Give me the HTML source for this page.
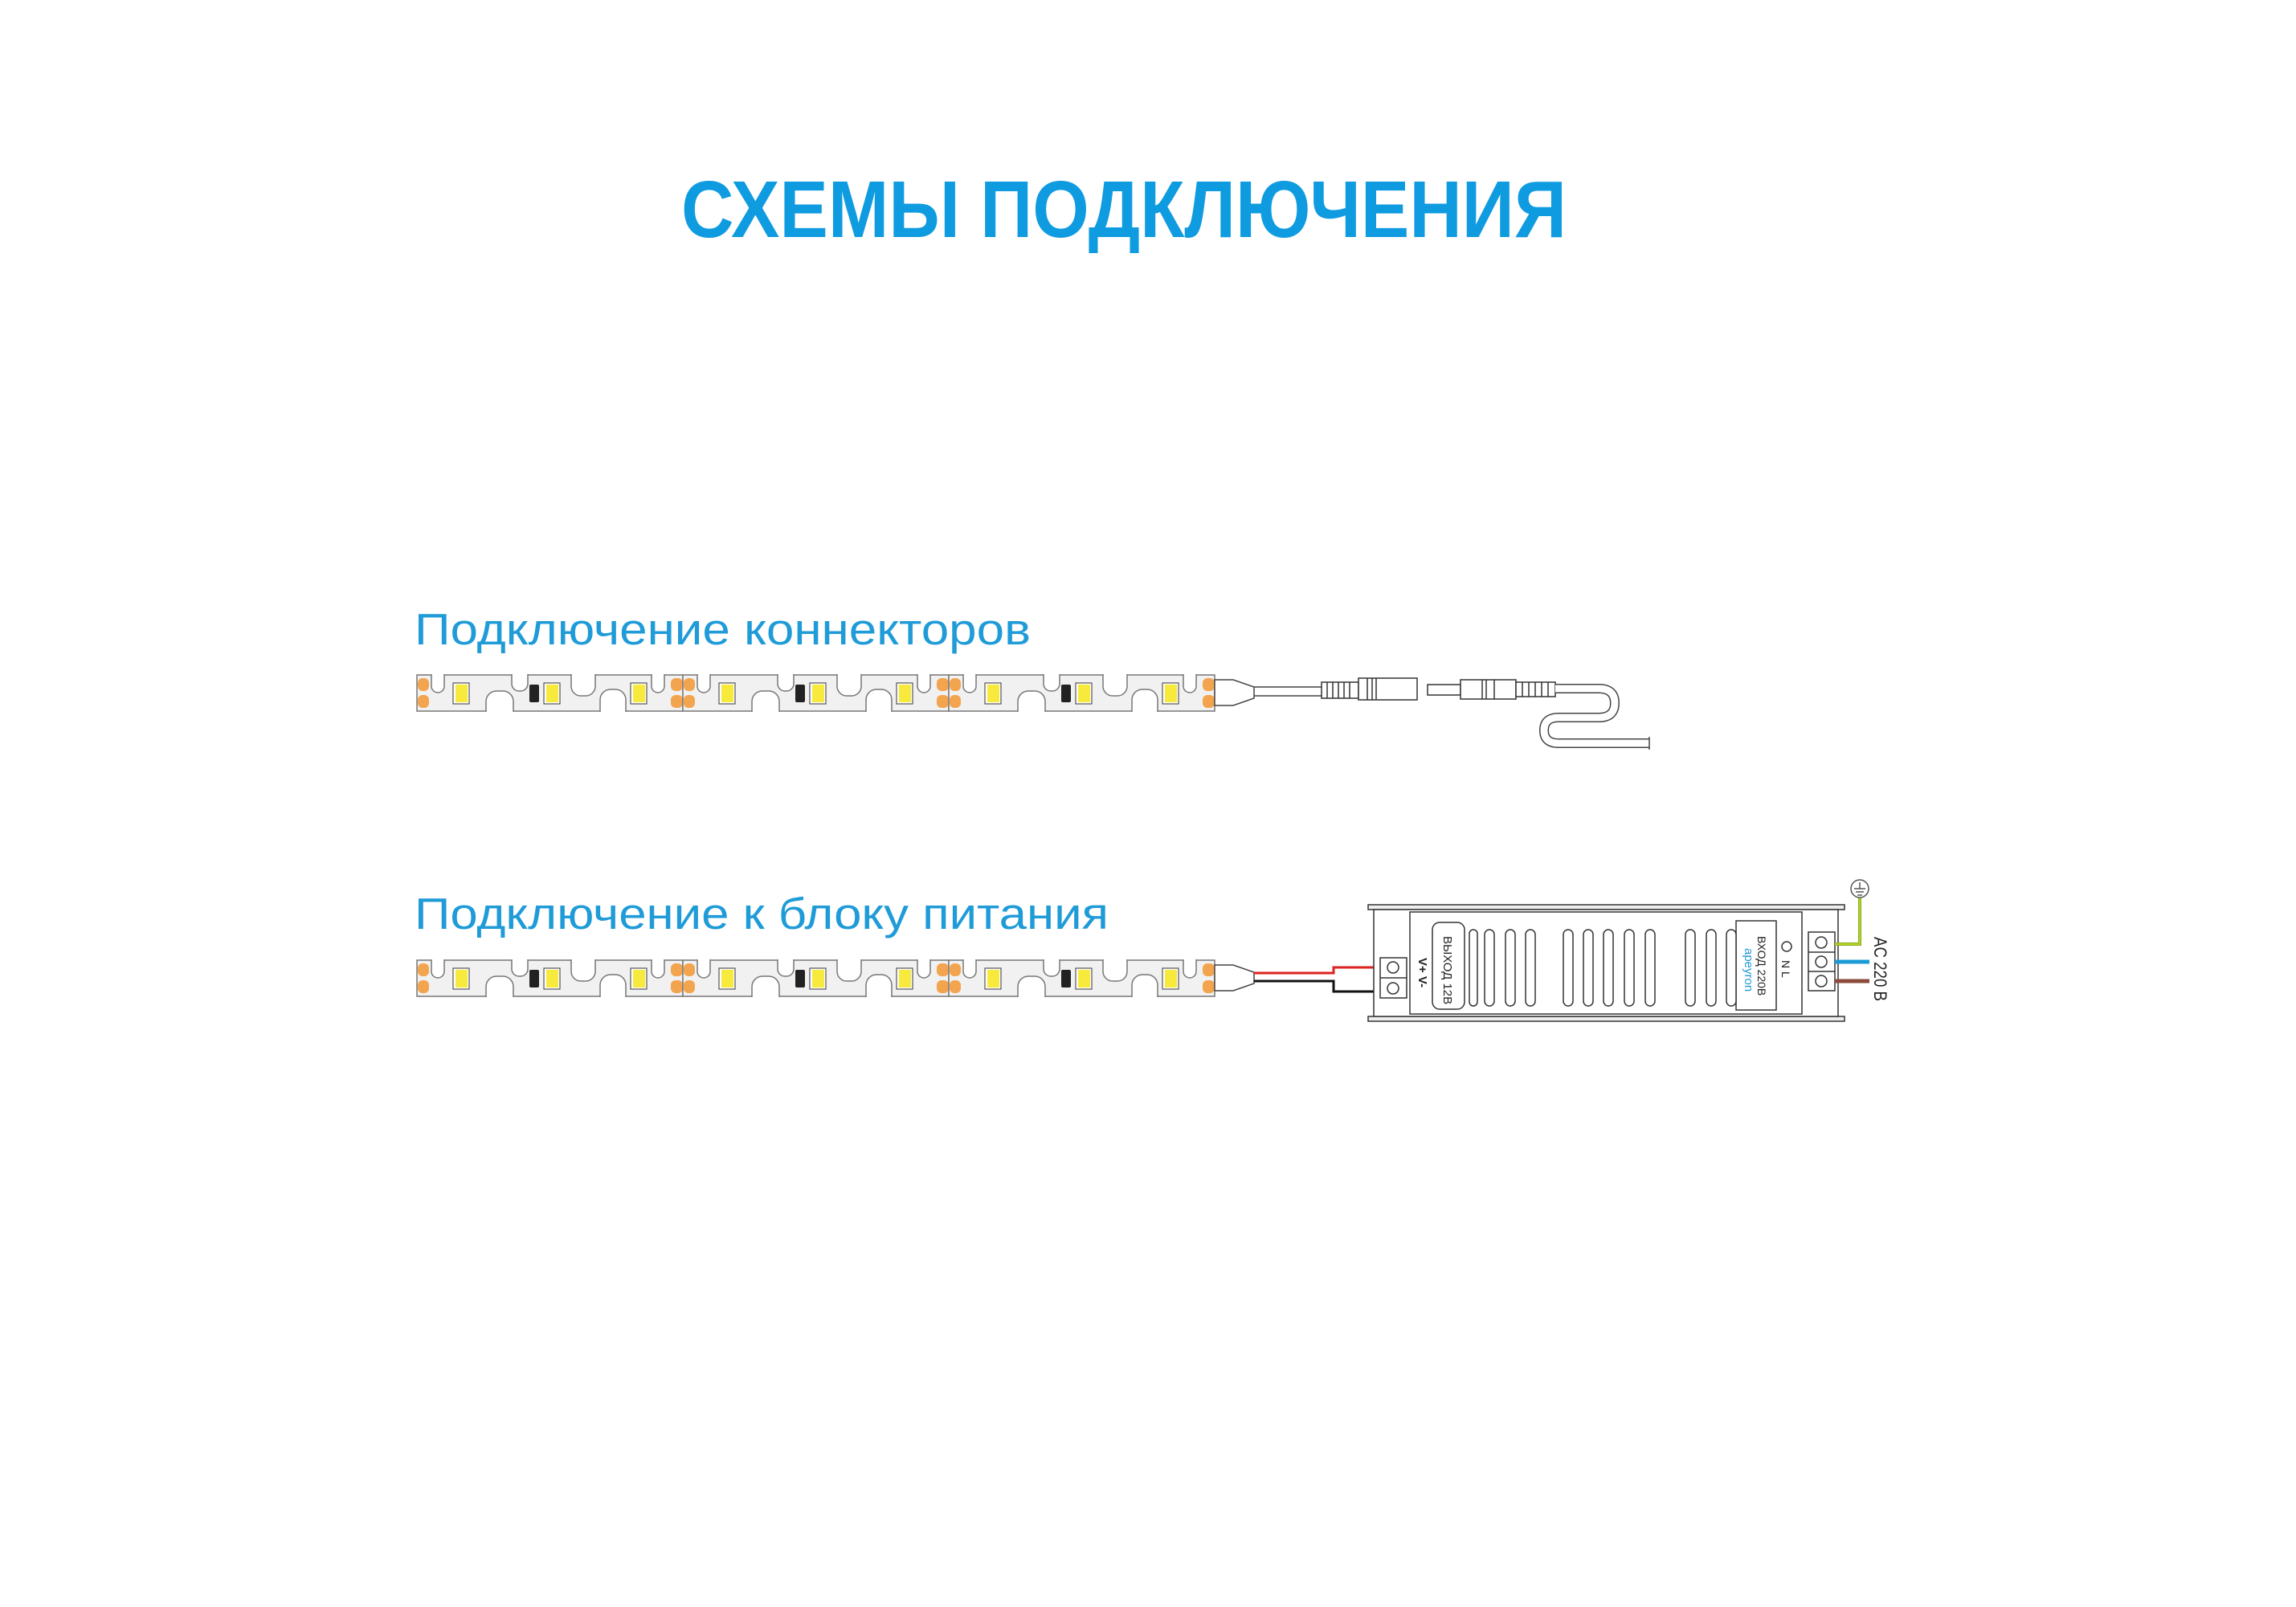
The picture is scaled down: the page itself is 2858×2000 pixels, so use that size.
<!DOCTYPE html>
<html><head><meta charset="utf-8"><style>
html,body{margin:0;padding:0;background:#fff;width:2858px;height:2000px;overflow:hidden}
svg{display:block}
</style></head><body>
<svg width="2858" height="2000" viewBox="0 0 2858 2000" xmlns="http://www.w3.org/2000/svg">
<defs>
<clipPath id="sc"><rect x="0" y="-1" width="331" height="47"/></clipPath>
<g id="seg">
  <rect x="0" y="0" width="331" height="45" fill="#f1f1f1" stroke="#777" stroke-width="1.5"/>
  <g clip-path="url(#sc)" fill="#fff" stroke="#777" stroke-width="1.5">
    <rect x="18" y="-20" width="16" height="42" rx="8"/>
    <rect x="86" y="20" width="34" height="46" rx="13"/>
    <rect x="118" y="-20" width="20" height="40" rx="9"/>
    <rect x="192" y="-22" width="30" height="48" rx="12"/>
    <rect x="228" y="18" width="32" height="46" rx="13"/>
    <rect x="292" y="-20" width="16" height="42" rx="8"/>
  </g>
  <rect x="1" y="4" width="14" height="16" rx="6" fill="#f2a44f"/>
  <rect x="1" y="25" width="14" height="16" rx="6" fill="#f2a44f"/>
  <rect x="316" y="4" width="15" height="16" rx="6" fill="#f2a44f"/>
  <rect x="316" y="25" width="15" height="16" rx="6" fill="#f2a44f"/>
  <rect x="45" y="10" width="20" height="26" fill="#fff" stroke="#555" stroke-width="1.2"/>
  <rect x="48" y="12" width="15" height="22" fill="#f7ea3c"/>
  <rect x="140" y="12" width="12" height="22" rx="2" fill="#222"/>
  <rect x="158" y="10" width="20" height="26" fill="#fff" stroke="#555" stroke-width="1.2"/>
  <rect x="161" y="12" width="15" height="22" fill="#f7ea3c"/>
  <rect x="266" y="10" width="20" height="26" fill="#fff" stroke="#555" stroke-width="1.2"/>
  <rect x="269" y="12" width="15" height="22" fill="#f7ea3c"/>
</g>
<g id="strip">
  <use href="#seg" x="0" y="0"/>
  <use href="#seg" x="331" y="0"/>
  <use href="#seg" x="662" y="0"/>
  <path d="M993 6 L1016 6 L1042 15 L1042 29 L1016 38 L993 38 Z" fill="#fff" stroke="#444" stroke-width="1.5"/>
</g>
</defs>

<text x="848" y="295" font-family="Liberation Sans, sans-serif" font-weight="bold" font-size="100" fill="#0f9be0" textLength="1102" lengthAdjust="spacingAndGlyphs">СХЕМЫ ПОДКЛЮЧЕНИЯ</text>

<text x="516" y="802" font-family="Liberation Sans, sans-serif" font-size="55" fill="#1f9bd8" textLength="767" lengthAdjust="spacingAndGlyphs">Подключение коннекторов</text>
<text x="516" y="1156" font-family="Liberation Sans, sans-serif" font-size="55" fill="#1f9bd8" textLength="864" lengthAdjust="spacingAndGlyphs">Подключение к блоку питания</text>

<use href="#strip" x="519" y="840"/>
<line x1="1561" y1="855" x2="1645" y2="855" stroke="#444" stroke-width="1.5"/>
<line x1="1561" y1="866" x2="1645" y2="866" stroke="#444" stroke-width="1.5"/>
<g fill="#fff" stroke="#333" stroke-width="1.5">
  <rect x="1645" y="849" width="46" height="20"/>
  <rect x="1691" y="844" width="73" height="27"/>
  <rect x="1777" y="852" width="41" height="13"/>
  <rect x="1818" y="846" width="69" height="24"/>
  <rect x="1887" y="849" width="49" height="18"/>
</g>
<g stroke="#333" stroke-width="1.5">
  <line x1="1652" y1="849" x2="1652" y2="869"/><line x1="1659" y1="849" x2="1659" y2="869"/>
  <line x1="1666" y1="849" x2="1666" y2="869"/><line x1="1673" y1="849" x2="1673" y2="869"/>
  <line x1="1680" y1="849" x2="1680" y2="869"/><line x1="1702" y1="844" x2="1702" y2="871"/>
  <line x1="1708" y1="844" x2="1708" y2="871"/><line x1="1713" y1="844" x2="1713" y2="871"/>
  <line x1="1845" y1="846" x2="1845" y2="870"/><line x1="1850" y1="846" x2="1850" y2="870"/>
  <line x1="1860" y1="846" x2="1860" y2="870"/>
  <line x1="1895" y1="849" x2="1895" y2="867"/><line x1="1903" y1="849" x2="1903" y2="867"/>
  <line x1="1911" y1="849" x2="1911" y2="867"/><line x1="1919" y1="849" x2="1919" y2="867"/>
  <line x1="1927" y1="849" x2="1927" y2="867"/>
</g>
<path d="M1936 857 L1990 857 Q2010 857 2010 875 Q2010 893 1990 893 L1940 893 Q1922 893 1922 909 Q1922 925 1940 925 L2053 925" fill="none" stroke="#444" stroke-width="12"/>
<path d="M1936 857 L1990 857 Q2010 857 2010 875 Q2010 893 1990 893 L1940 893 Q1922 893 1922 909 Q1922 925 1940 925 L2055 925" fill="none" stroke="#fff" stroke-width="9"/>
<line x1="2053" y1="917" x2="2053" y2="933" stroke="#444" stroke-width="1.5"/>

<use href="#strip" x="519" y="1195"/>
<polyline points="1561,1211 1660,1211 1660,1204 1718,1204" fill="none" stroke="#d22" stroke-width="3"/>
<polyline points="1561,1221 1660,1221 1660,1234 1718,1234" fill="none" stroke="#111" stroke-width="3"/>

<g fill="#fff" stroke="#333" stroke-width="1.5">
  <rect x="1703" y="1126" width="593" height="6" fill="#eee"/>
  <rect x="1703" y="1265" width="593" height="6" fill="#eee"/>
  <rect x="1710" y="1132" width="578" height="133"/>
  <rect x="1755" y="1135" width="488" height="127"/>
  <rect x="1718" y="1192" width="33" height="50"/>
  <line x1="1718" y1="1217" x2="1751" y2="1217"/>
  <circle cx="1734" cy="1204" r="7"/>
  <circle cx="1734" cy="1230" r="7"/>
  <rect x="1783" y="1148" width="40" height="108" rx="9"/>
  <rect x="2161" y="1146" width="50" height="111"/>
  <rect x="2251" y="1160" width="33" height="73"/>
  <line x1="2251" y1="1185" x2="2284" y2="1185"/>
  <line x1="2251" y1="1209" x2="2284" y2="1209"/>
  <circle cx="2267" cy="1173" r="7"/>
  <circle cx="2267" cy="1197" r="7"/>
  <circle cx="2267" cy="1221" r="7"/>
  <circle cx="2224" cy="1178" r="6"/>
</g>
<g fill="#fff" stroke="#333" stroke-width="1.5">
  <rect x="1829" y="1157" width="10" height="95" rx="5"/>
  <rect x="1848" y="1157" width="12" height="95" rx="6"/>
  <rect x="1874" y="1157" width="12" height="95" rx="6"/>
  <rect x="1899" y="1157" width="12" height="95" rx="6"/>
  <rect x="1946" y="1157" width="12" height="95" rx="6"/>
  <rect x="1971" y="1157" width="12" height="95" rx="6"/>
  <rect x="1996" y="1157" width="12" height="95" rx="6"/>
  <rect x="2022" y="1157" width="12" height="95" rx="6"/>
  <rect x="2048" y="1157" width="12" height="95" rx="6"/>
  <rect x="2098" y="1157" width="12" height="95" rx="6"/>
  <rect x="2124" y="1157" width="12" height="95" rx="6"/>
  <rect x="2149" y="1157" width="12" height="95" rx="6"/>
</g>
<g font-family="Liberation Sans, sans-serif" fill="#222">
  <text transform="translate(1766,1192) rotate(90)" font-size="15" font-weight="bold">V+ V-</text>
  <text transform="translate(1797,1165) rotate(90)" font-size="15">ВЫХОД 12В</text>
  <text transform="translate(2188,1165) rotate(90)" font-size="14">ВХОД 220В</text>
  <text transform="translate(2172,1180) rotate(90)" font-size="15" fill="#1f9bd8">apeyron</text>
  <text transform="translate(2218,1195) rotate(90)" font-size="14">N  L</text>
  <text transform="translate(2333,1166) rotate(90)" font-size="22" textLength="80" lengthAdjust="spacingAndGlyphs">AC 220 B</text>
</g>
<polyline points="2284,1175 2315,1175 2315,1115" fill="none" stroke="#7ab51d" stroke-width="4"/>
<polyline points="2284,1175 2315,1175 2315,1115" fill="none" stroke="#d9d32a" stroke-width="1.5"/>
<line x1="2284" y1="1197" x2="2327" y2="1197" stroke="#1a9ad6" stroke-width="5"/>
<line x1="2284" y1="1221" x2="2327" y2="1221" stroke="#8b4a3a" stroke-width="5"/>
<circle cx="2315" cy="1106" r="11" fill="#fff" stroke="#555" stroke-width="1.5"/>
<g stroke="#555" stroke-width="1.5">
  <line x1="2315" y1="1098" x2="2315" y2="1106"/>
  <line x1="2308" y1="1106" x2="2322" y2="1106"/>
  <line x1="2310" y1="1110" x2="2320" y2="1110"/>
  <line x1="2312" y1="1114" x2="2318" y2="1114"/>
</g>
</svg>
</body></html>
